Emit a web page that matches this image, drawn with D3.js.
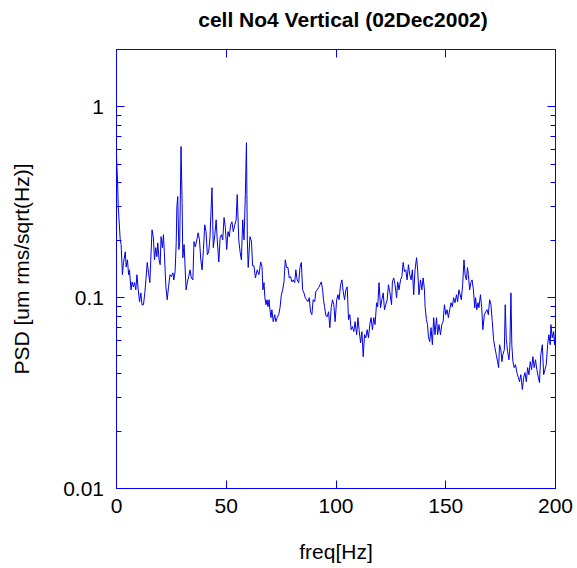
<!DOCTYPE html>
<html>
<head>
<meta charset="utf-8">
<script src="https://cdn.jsdelivr.net/npm/d3@7"></script>
<style>
  html, body { margin: 0; padding: 0; background: #fff; }
  svg { display: block; }
  text { font-family: "Liberation Sans", Arial, sans-serif; fill: #000; }
</style>
</head>
<body>
<svg id="chart" width="577" height="568"></svg>
<script>
const titleText = "cell No4 Vertical (02Dec2002)";
const xLabel = "freq[Hz]";
const yLabel = "PSD [um rms/sqrt(Hz)]";
const xTicks = [0, 50, 100, 150, 200];
const yTicks = [0.01, 0.1, 1];
const yTickLabels = ["0.01", "0.1", "1"];

const freq = [
  0.0,0.5,0.8,1.7,2.1,2.7,3.2,4.0,4.4,5.0,5.5,5.9,6.6,7.1,7.7,8.2,8.8,9.3,9.9,10.5,
  11.1,11.6,12.3,12.9,13.4,14.0,14.6,15.2,15.6,16.2,16.8,17.3,17.9,18.4,18.8,19.4,19.9,20.3,20.9,21.4,
  21.8,22.5,23.1,23.7,24.4,25.0,25.7,26.1,26.7,27.2,27.5,27.9,28.4,28.8,29.4,29.9,30.2,30.8,31.7,32.3,
  32.9,33.5,34.1,34.8,35.3,35.9,36.6,37.2,37.8,38.4,39.0,39.6,40.2,40.8,41.4,42.0,42.6,43.1,43.5,44.1,
  44.8,45.4,45.9,46.6,47.2,47.8,48.4,49.0,49.6,50.2,50.8,51.4,52.0,52.6,53.2,53.9,54.5,55.0,55.7,56.3,
  56.9,57.5,58.1,58.7,59.2,59.6,60.0,60.8,61.5,62.0,62.6,63.3,64.1,64.9,65.7,66.3,66.7,67.2,67.6,68.1,
  68.6,69.0,69.5,69.9,70.4,70.8,71.4,72.1,72.6,73.2,73.9,74.5,75.1,75.7,76.3,76.9,77.5,78.1,78.7,79.3,
  79.9,80.5,81.2,81.7,82.3,83.0,83.6,84.2,84.8,85.4,86.0,86.6,87.2,87.8,88.4,89.0,89.6,90.3,90.8,91.4,
  92.1,92.7,93.3,93.9,94.3,94.8,95.4,96.0,96.6,97.2,97.8,98.4,99.0,99.6,100.3,100.9,101.4,102.1,102.7,103.3,
  103.9,104.5,105.1,105.7,106.3,106.9,107.5,108.1,108.7,109.4,110.0,110.5,111.2,111.8,112.4,113.0,113.6,114.2,114.8,115.4,
  116.0,116.6,117.2,117.8,118.5,119.0,119.6,120.3,120.9,121.5,122.1,122.7,123.3,123.9,124.5,125.3,125.7,126.3,126.9,127.6,
  128.1,128.7,129.4,130.0,130.6,131.2,131.8,132.4,133.0,133.6,134.2,134.8,135.4,136.0,136.7,137.2,137.8,138.5,139.1,139.7,
  140.3,140.6,141.2,141.7,142.1,142.7,143.3,143.9,144.5,145.1,145.8,146.3,146.9,147.6,148.2,148.8,149.4,150.0,150.6,151.2,
  151.8,152.4,153.0,153.6,154.2,154.9,155.4,156.0,157.1,157.7,158.3,158.8,159.4,159.9,160.3,160.9,161.4,162.0,162.6,163.2,
  163.6,164.1,164.7,165.1,165.8,166.4,166.9,167.6,168.2,168.8,169.4,170.0,170.6,171.2,171.8,172.4,173.0,173.6,174.1,174.5,
  175.1,175.6,176.0,176.7,177.1,177.6,178.2,178.8,179.2,179.7,180.1,180.6,181.2,181.8,182.4,183.1,183.6,184.2,184.9,185.5,
  186.1,186.7,187.3,187.9,188.5,189.1,189.7,190.3,190.9,191.5,192.2,192.7,193.3,194.0,194.6,195.2,195.8,196.4,197.0,197.6,
  197.9,198.5,199.1,199.6,200.0
];

const psd = [
  0.55,0.40,0.300,0.201,0.190,0.132,0.153,0.174,0.145,0.158,0.132,0.140,0.110,0.121,0.114,0.120,0.110,0.132,0.110,0.0953,
  0.106,0.0919,0.0919,0.106,0.124,0.153,0.135,0.120,0.158,0.227,0.206,0.158,0.183,0.164,0.194,0.158,0.149,0.209,0.183,0.214,
  0.172,0.114,0.0976,0.114,0.132,0.129,0.135,0.124,0.137,0.194,0.300,0.339,0.179,0.194,0.62,0.315,0.162,0.190,0.110,0.121,
  0.129,0.140,0.127,0.124,0.197,0.185,0.201,0.219,0.201,0.158,0.140,0.179,0.241,0.222,0.168,0.174,0.209,0.289,0.377,0.183,
  0.214,0.256,0.201,0.154,0.206,0.214,0.201,0.263,0.233,0.179,0.222,0.209,0.241,0.250,0.222,0.241,0.256,0.347,0.201,0.174,
  0.158,0.256,0.201,0.347,0.65,0.201,0.144,0.209,0.197,0.147,0.147,0.127,0.140,0.132,0.154,0.145,0.110,0.120,0.100,0.0919,
  0.0976,0.0897,0.0976,0.0865,0.0786,0.0865,0.0749,0.0815,0.0749,0.0786,0.0815,0.0886,0.1037,0.110,0.121,0.158,0.144,0.144,0.127,0.129,
  0.121,0.124,0.120,0.140,0.124,0.120,0.144,0.153,0.110,0.106,0.100,0.0976,0.0953,0.100,0.0844,0.0815,0.0976,0.0953,0.1075,0.110,
  0.113,0.117,0.121,0.110,0.0976,0.0897,0.0805,0.0795,0.0844,0.0697,0.0886,0.0976,0.0919,0.0749,0.0976,0.1037,0.0976,0.117,0.124,0.1075,
  0.0976,0.110,0.114,0.0767,0.0815,0.068,0.0705,0.0664,0.0749,0.064,0.0786,0.068,0.0581,0.0664,0.0491,0.064,0.0617,0.068,0.0617,0.0723,
  0.0786,0.068,0.0786,0.0723,0.0941,0.0897,0.120,0.0886,0.0976,0.106,0.0865,0.0919,0.0976,0.117,0.1075,0.0919,0.121,0.127,0.117,0.100,
  0.121,0.110,0.124,0.129,0.153,0.137,0.140,0.124,0.149,0.132,0.124,0.140,0.1037,0.140,0.162,0.140,0.1037,0.124,0.110,0.127,
  0.110,0.0897,0.0767,0.0723,0.0624,0.0588,0.0697,0.0567,0.0786,0.064,0.0786,0.064,0.0723,0.064,0.0723,0.0749,0.0919,0.0815,0.0865,0.0786,
  0.0865,0.0941,0.0897,0.100,0.0941,0.1037,0.0953,0.110,0.0976,0.117,0.158,0.132,0.124,0.144,0.132,0.110,0.120,0.124,0.110,0.0886,
  0.100,0.0865,0.0941,0.0886,0.1037,0.0886,0.068,0.0815,0.0844,0.0865,0.0815,0.0976,0.0919,0.0749,0.0602,0.0547,0.0503,0.0462,0.0430,0.0567,
  0.0534,0.0462,0.0503,0.0534,0.0919,0.0602,0.0521,0.0473,0.0547,0.106,0.0567,0.0462,0.0430,0.0446,0.0405,0.0381,0.0363,0.0395,0.033,0.0381,
  0.0405,0.0363,0.0430,0.0395,0.0462,0.0420,0.0491,0.0430,0.0473,0.0420,0.0381,0.0359,0.0503,0.0567,0.0395,0.0420,0.0446,0.0567,0.064,0.0567,
  0.0723,0.0617,0.0664,0.0567,0.068
];

const svg = d3.select("#chart");
const plotL = 116.5, plotR = 555.5, plotT = 49.5, plotB = 488.5;
const blue = "#0000ff";

const x = d3.scaleLinear().domain([0, 200]).range([plotL, plotR]);
const y = d3.scaleLog().domain([0.01, 2]).range([plotB, plotT]);

// data line
const n = Math.min(freq.length, psd.length);
const data = d3.range(n).map(i => [freq[i], psd[i]]);
svg.append("path")
  .datum(data)
  .attr("fill", "none")
  .attr("stroke", "#0000e6")
  .attr("stroke-width", 1)
  .attr("stroke-linejoin", "round")
  .attr("d", d3.line().x(d => x(d[0])).y(d => y(d[1])));

// frame
svg.append("rect")
  .attr("x", plotL).attr("y", plotT)
  .attr("width", plotR - plotL).attr("height", plotB - plotT)
  .attr("fill", "none").attr("stroke", blue).attr("stroke-width", 1);

// x ticks inward (bottom and top)
const gx = svg.append("g");
xTicks.forEach(t => {
  const px = Math.round(x(t) - 0.5) + 0.5;
  gx.append("line").attr("x1", px).attr("x2", px).attr("y1", plotB).attr("y2", plotB - 8).attr("stroke", blue);
  gx.append("line").attr("x1", px).attr("x2", px).attr("y1", plotT).attr("y2", plotT + 8).attr("stroke", blue);
  gx.append("text").attr("x", x(t)).attr("y", 513)
    .attr("text-anchor", "middle").attr("font-size", 21).text(d3.format("d")(t));
});

// y ticks: major and minor, inward on left and right
const gy = svg.append("g");
const minor = [];
[0.01, 0.1].forEach(d => { for (let k = 2; k <= 9; k++) minor.push(d * k); });
minor.forEach(v => {
  const py = Math.round(y(v) - 0.5) + 0.5;
  gy.append("line").attr("x1", plotL).attr("x2", plotL + 5).attr("y1", py).attr("y2", py).attr("stroke", blue);
  gy.append("line").attr("x1", plotR).attr("x2", plotR - 5).attr("y1", py).attr("y2", py).attr("stroke", blue);
});
yTicks.forEach((v, i) => {
  const py = Math.round(y(v) - 0.5) + 0.5;
  gy.append("line").attr("x1", plotL).attr("x2", plotL + 8).attr("y1", py).attr("y2", py).attr("stroke", blue);
  gy.append("line").attr("x1", plotR).attr("x2", plotR - 8).attr("y1", py).attr("y2", py).attr("stroke", blue);
  gy.append("text").attr("x", 104).attr("y", y(v)).attr("dy", "0.36em")
    .attr("text-anchor", "end").attr("font-size", 21).text(yTickLabels[i]);
});

// title and labels
svg.append("text").attr("x", (plotL + plotR) / 2 + 7).attr("y", 27)
  .attr("text-anchor", "middle").attr("font-size", 21).attr("font-weight", "bold")
  .text(titleText);
svg.append("text").attr("x", (plotL + plotR) / 2).attr("y", 559)
  .attr("text-anchor", "middle").attr("font-size", 21).text(xLabel);
svg.append("text")
  .attr("transform", `translate(29, ${(plotT + plotB) / 2}) rotate(-90)`)
  .attr("text-anchor", "middle").attr("font-size", 21).text(yLabel);
</script>
</body>
</html>
